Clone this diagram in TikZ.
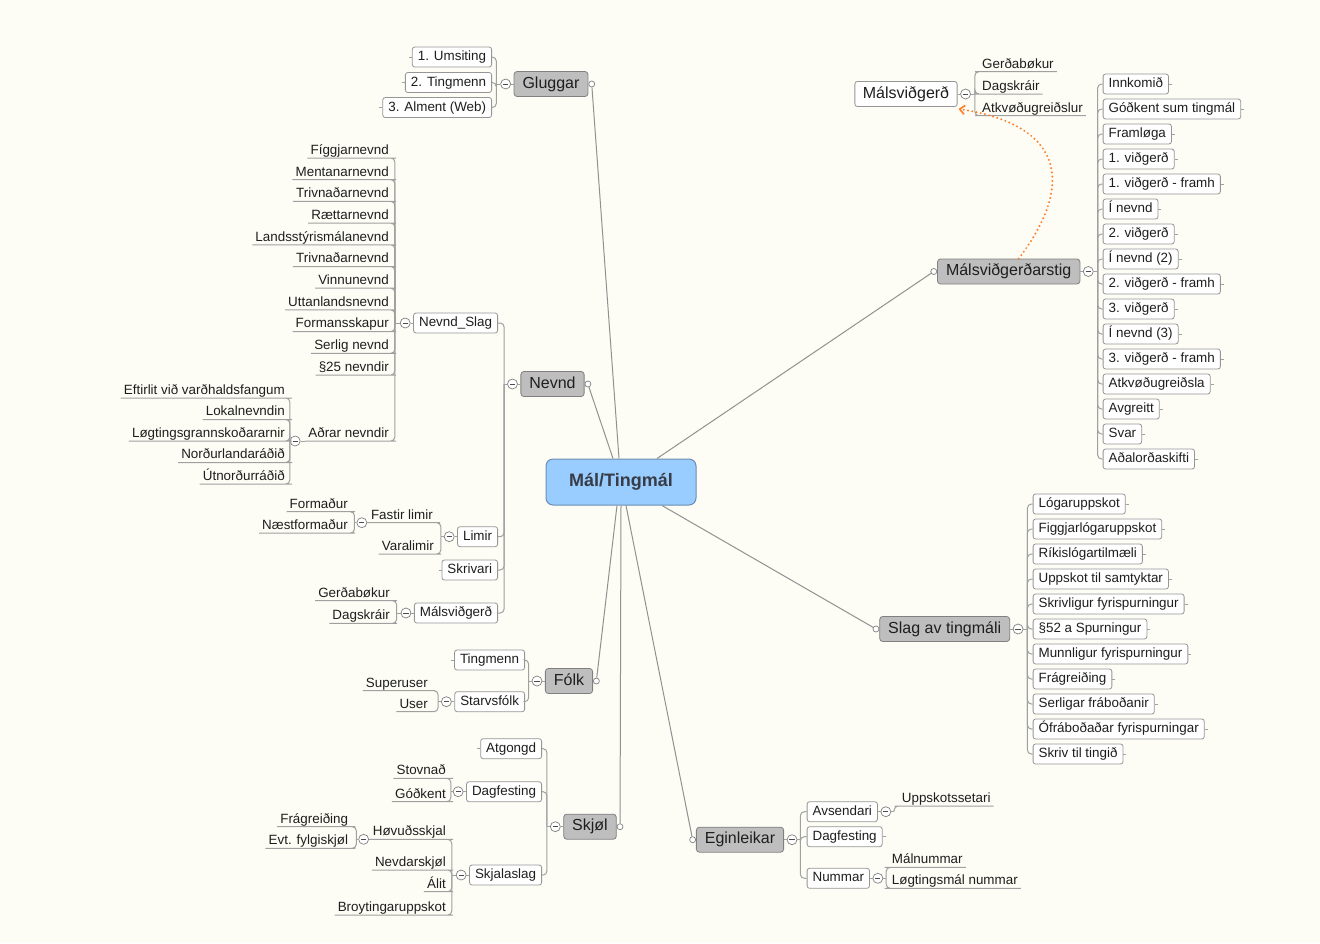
\documentclass[tikz,border=0pt]{standalone}
\usepackage{fontspec}
\setmainfont{Liberation Sans}
\usetikzlibrary{arrows.meta,calc}
\definecolor{bg}{RGB}{253,253,246}
\definecolor{ln}{RGB}{160,160,160}
\definecolor{bx}{RGB}{150,150,150}
\definecolor{mainfill}{RGB}{190,190,190}
\definecolor{mainedge}{RGB}{128,128,128}
\definecolor{rootfill}{RGB}{153,204,255}
\definecolor{rootedge}{RGB}{110,140,180}
\definecolor{orng}{RGB}{255,125,35}
\definecolor{txt}{RGB}{30,30,30}
\newcommand\cLB[3]{\draw[conn] ([xshift=-#2pt]#1.west) |- (#3.east);}
\newcommand\cLU[3]{\draw[conn] ([xshift=-#2pt]#1.west) |- (#3.south east) -- (#3.south west);}
\newcommand\cRB[3]{\draw[conn] ([xshift=#2pt]#1.east) |- (#3.west);}
\newcommand\cRU[3]{\draw[conn] ([xshift=#2pt]#1.east) |- (#3.south west) -- (#3.south east);}
\newcommand\cLS[2]{\draw[conn] (#1.west) -- ([xshift=-#2pt]#1.west);}
\newcommand\cRS[2]{\draw[conn] (#1.east) -- ([xshift=#2pt]#1.east);}
\tikzset{
 rootbox/.style={draw=rootedge, fill=rootfill, rounded corners=7pt, line width=1pt, minimum width=150pt, minimum height=46pt, font=\fontsize{18}{20}\selectfont\bfseries, text={rgb,255:red,55;green,60;blue,70}},
 mainbox/.style={draw=mainedge, fill=mainfill, rounded corners=3pt, line width=0.8pt, minimum height=25pt, inner xsep=8.5pt, inner ysep=0pt, text height=11.5pt, text depth=3.5pt, font=\fontsize{16}{18}\selectfont, text=txt},
 subbox/.style={draw=bx, fill=white, rounded corners=2.5pt, line width=0.8pt, minimum height=20pt, inner xsep=5.5pt, inner ysep=0pt, text height=9.5pt, text depth=2.5pt, font=\fontsize{13.4}{15}\selectfont, text=txt},
 ul/.style={inner xsep=3pt, inner ysep=0pt, text height=9.5pt, text depth=3.5pt, font=\fontsize{13.4}{15}\selectfont, text=txt},
 mn/.style={circle, draw=mainedge, fill=white, line width=0.7pt, minimum size=10pt, inner sep=0pt, path picture={\draw[line width=1pt, draw=txt!80] ([xshift=-2.6pt]path picture bounding box.center) -- ([xshift=2.6pt]path picture bounding box.center);}},
 dotc/.style={circle, draw=mainedge, fill=white, line width=0.7pt, minimum size=6pt, inner sep=0pt},
 conn/.style={draw=ln, line width=1pt, rounded corners=4pt},
 spoke/.style={draw={rgb,255:red,145;green,145;blue,145}, line width=1pt},
}
\begin{document}
\begin{tikzpicture}[x=1pt,y=-1pt]
\useasboundingbox (0,0) rectangle (1320,943);
\fill[bg] (0,0) rectangle (1320,943);

% root
\node[rootbox] (root) at (621,482) {Mál/Tingmál};

% ---------- Gluggar
\node[mainbox] (glug) at (551,84) {Gluggar};
\node[dotc,anchor=west] (glugd) at (glug.east) {};
\node[mn] (glugm) at ([xshift=-8pt]glug.west) {};
\draw[conn] (glug.west) -- (glugm.east); \cLS{glugm}{4}
\node[subbox,anchor=east] (g1) at (492,57) {1. Umsiting};
\node[subbox,anchor=east] (g2) at (492,82.5) {2. Tingmenn};
\node[subbox,anchor=east] (g3) at (492,107.5) {3. Alment (Web)};
\foreach \n in {g1,g2,g3} {\cLB{glugm}{4}{\n} \cLS{\n}{3}}

% ---------- Nevnd
\node[mainbox] (nev) at (552.5,384) {Nevnd};
\node[dotc,anchor=west] (nevdot) at (nev.east) {};
\node[mn] (nevm) at ([xshift=-8pt]nev.west) {};
\draw[conn] (nev.west) -- (nevm.east); \cLS{nevm}{3}
\node[subbox,anchor=east] (nslag) at (498,323) {Nevnd\_Slag};
\node[subbox,anchor=east] (limir) at (498,536.7) {Limir};
\node[subbox,anchor=east] (skriv) at (498,570) {Skrivari};
\node[subbox,anchor=east] (nmsv) at (498,613) {Málsviðgerð};
\foreach \n in {nslag,limir,skriv,nmsv} {\cLB{nevm}{3}{\n}}
\cLS{skriv}{3}

% Nevnd_Slag
\node[mn] (nslagm) at ([xshift=-8pt]nslag.west) {};
\draw[conn] (nslag.west) -- (nslagm.east); \cLS{nslagm}{5}
\foreach \t [count=\i from 0] in {Fíggjarnevnd,Mentanarnevnd,Trivnaðarnevnd,Rættarnevnd,Landsstýrismálanevnd,Trivnaðarnevnd,Vinnunevnd,Uttanlandsnevnd,Formansskapur,Serlig nevnd,§25 nevndir}
 {\node[ul,anchor=south east] (ns\i) at (392,158+21.7*\i) {\t}; \cLU{nslagm}{5}{ns\i}}
\node[ul,anchor=south east] (adr) at (392,441) {Aðrar nevndir};
\cLU{nslagm}{5}{adr}
\node[mn] (adm) at ([xshift=-10pt]adr.south west) {};
\draw[conn] (adr.south west) -- (adm.east);
\foreach \t [count=\i from 0] in {Eftirlit við varðhaldsfangum,Lokalnevndin,Løgtingsgrannskoðararnir,Norðurlandaráðið,Útnorðurráðið}
 {\node[ul,anchor=south east] (ad\i) at (288,398+21.5*\i) {\t}; \cLU{adm}{0}{ad\i}}

% Limir
\node[mn] (limm) at ([xshift=-8pt]limir.west) {};
\draw[conn] (limir.west) -- (limm.east); \cLS{limm}{3}
\node[ul,anchor=south east] (fast) at (436,522.7) {Fastir limir};
\node[ul,anchor=south east] (vara) at (437,554) {Varalimir};
\cLU{limm}{3}{fast} \cLU{limm}{3}{vara}
\node[mn] (fastm) at ([xshift=-6pt]fast.south west) {};
\draw[conn] (fast.south west) -- (fastm.east); \cLS{fastm}{2}
\node[ul,anchor=south east] (form) at (351,511.7) {Formaður};
\node[ul,anchor=south east] (nform) at (351,533) {Næstformaður};
\cLU{fastm}{2}{form} \cLU{fastm}{2}{nform}

% Malsvidgerd (Nevnd)
\node[mn] (nmsvm) at ([xshift=-8pt]nmsv.west) {};
\draw[conn] (nmsv.west) -- (nmsvm.east); \cLS{nmsvm}{4}
\node[ul,anchor=south east] (ngb) at (393,600.7) {Gerðabøkur};
\node[ul,anchor=south east] (ndk) at (393,623.3) {Dagskráir};
\cLU{nmsvm}{4}{ngb} \cLU{nmsvm}{4}{ndk}

% ---------- Folk
\node[mainbox] (folk) at (569,681) {Fólk};
\node[dotc,anchor=west] (folkd) at (folk.east) {};
\node[mn] (folkm) at ([xshift=-8pt]folk.west) {};
\draw[conn] (folk.west) -- (folkm.east); \cLS{folkm}{3}
\node[subbox,anchor=east] (ting) at (525,660) {Tingmenn};
\node[subbox,anchor=east] (starv) at (525,701.7) {Starvsfólk};
\cLB{folkm}{3}{ting} \cLB{folkm}{3}{starv} \cLS{ting}{3}
\node[mn] (starvm) at ([xshift=-8pt]starv.west) {};
\draw[conn] (starv.west) -- (starvm.east); \cLS{starvm}{3}
\node[ul,anchor=south east] (super) at (431,690.7) {Superuser};
\node[ul,anchor=south east] (user) at (431,711.7) {User};
\cLU{starvm}{3}{super} \cLU{starvm}{3}{user}

% ---------- Skjol
\node[mainbox] (skjol) at (590,826.7) {Skjøl};
\node[dotc,anchor=west] (skjold) at (skjol.east) {};
\node[mn] (skjm) at ([xshift=-8pt]skjol.west) {};
\draw[conn] (skjol.west) -- (skjm.east); \cLS{skjm}{3}
\node[subbox,anchor=east] (atg) at (542,748.7) {Atgongd};
\node[subbox,anchor=east] (dagf) at (542,791.7) {Dagfesting};
\node[subbox,anchor=east] (skjs) at (542,875) {Skjalaslag};
\foreach \n in {atg,dagf,skjs} {\cLB{skjm}{3}{\n}}
\cLS{atg}{3}
\node[mn] (dagfm) at ([xshift=-8pt]dagf.west) {};
\draw[conn] (dagf.west) -- (dagfm.east); \cLS{dagfm}{2}
\node[ul,anchor=south east] (stov) at (449,778.3) {Stovnað};
\node[ul,anchor=south east] (godk) at (449,801.7) {Góðkent};
\cLU{dagfm}{2}{stov} \cLU{dagfm}{2}{godk}
\node[mn] (skjsm) at ([xshift=-8pt]skjs.west) {};
\draw[conn] (skjs.west) -- (skjsm.east); \cLS{skjsm}{4}
\node[ul,anchor=south east] (hovud) at (449,839.3) {Høvuðsskjal};
\node[ul,anchor=south east] (nevdsk) at (449,870) {Nevdarskjøl};
\node[ul,anchor=south east] (alit) at (449,891.7) {Álit};
\node[ul,anchor=south east] (broyt) at (449,915) {Broytingaruppskot};
\foreach \n in {hovud,nevdsk,alit,broyt} {\cLU{skjsm}{4}{\n}}
\node[mn] (hovm) at ([xshift=-6pt]hovud.south west) {};
\draw[conn] (hovud.south west) -- (hovm.east); \cLS{hovm}{2}
\node[ul,anchor=south east] (frag) at (351.3,826.7) {Frágreiðing};
\node[ul,anchor=south east] (evt) at (351.3,848.3) {Evt. fylgiskjøl};
\cLU{hovm}{2}{frag} \cLU{hovm}{2}{evt}

% ---------- Eginleikar
\node[mainbox] (egin) at (740,839.7) {Eginleikar};
\node[dotc,anchor=east] (egind) at (egin.west) {};
\node[mn] (eginm) at ([xshift=8pt]egin.east) {};
\draw[conn] (egin.east) -- (eginm.west); \cRS{eginm}{3}
\node[subbox,anchor=west] (avs) at (806.7,811.7) {Avsendari};
\node[subbox,anchor=west] (edag) at (806.7,836.7) {Dagfesting};
\node[subbox,anchor=west] (numm) at (806.7,878.3) {Nummar};
\foreach \n in {avs,edag,numm} {\cRB{eginm}{3}{\n}}
\cRS{edag}{3}
\node[mn] (avsm) at ([xshift=8pt]avs.east) {};
\draw[conn] (avs.east) -- (avsm.west); \cRS{avsm}{3}
\node[ul,anchor=south west] (upps) at (898.7,806) {Uppskotssetari};
\cRU{avsm}{3}{upps}
\node[mn] (nummm) at ([xshift=8pt]numm.east) {};
\draw[conn] (numm.east) -- (nummm.west); \cRS{nummm}{3}
\node[ul,anchor=south west] (maln) at (888.7,867.3) {Málnummar};
\node[ul,anchor=south west] (logn) at (888.7,888.3) {Løgtingsmál nummar};
\cRU{nummm}{3}{maln} \cRU{nummm}{3}{logn}

% ---------- Malsvidgerdarstig
\node[mainbox] (mstig) at (1008.7,271.5) {Málsviðgerðarstig};
\node[dotc,anchor=east] (mstigd) at (mstig.west) {};
\node[mn] (mstigm) at ([xshift=8pt]mstig.east) {};
\draw[conn] (mstig.east) -- (mstigm.west); \cRS{mstigm}{4}
\foreach \t [count=\i from 0] in {Innkomið,Góðkent sum tingmál,Framløga,1. viðgerð,1. viðgerð - framh,Í nevnd,2. viðgerð,Í nevnd (2),2. viðgerð - framh,3. viðgerð,Í nevnd (3),3. viðgerð - framh,Atkvøðugreiðsla,Avgreitt,Svar,Aðalorðaskifti}
 {\node[subbox,anchor=west] (ms\i) at (1102.7,84+25*\i) {\t}; \cRB{mstigm}{4}{ms\i} \cRS{ms\i}{3}}

% ---------- Malsvidgerd (floating)
\node[subbox, font=\fontsize{16}{18}\selectfont, minimum height=25pt, inner xsep=8pt, text height=11.5pt, text depth=3.5pt] (msvg) at (906,94) {Málsviðgerð};
\node[mn] (msvgm) at ([xshift=8pt]msvg.east) {};
\draw[conn] (msvg.east) -- (msvgm.west); \cRS{msvgm}{4}
\node[ul,anchor=south west] (ugb) at (979,71.7) {Gerðabøkur};
\node[ul,anchor=south west] (udk) at (979,94) {Dagskráir};
\node[ul,anchor=south west] (uat) at (979,115.7) {Atkvøðugreiðslur};
\cRU{msvgm}{4}{ugb} \cRU{msvgm}{4}{udk} \cRU{msvgm}{4}{uat}

% ---------- Slag av tingmali
\node[mainbox] (slag) at (944.7,629) {Slag av tingmáli};
\node[dotc,anchor=east] (slagd) at (slag.west) {};
\node[mn] (slagm) at ([xshift=8pt]slag.east) {};
\draw[conn] (slag.east) -- (slagm.west); \cRS{slagm}{4}
\foreach \t [count=\i from 0] in {Lógaruppskot,Figgjarlógaruppskot,Ríkislógartilmæli,Uppskot til samtyktar,Skrivligur fyrispurningur,§52 a Spurningur,Munnligur fyrispurningur,Frágreiðing,Serligar fráboðanir,Ófráboðaðar fyrispurningar,Skriv til tingið}
 {\node[subbox,anchor=west] (sl\i) at (1032.7,504+25*\i) {\t}; \cRB{slagm}{4}{sl\i} \cRS{sl\i}{3}}

% ---------- spokes from root
\draw[spoke] ([xshift=-2pt]root.north) -- (glugd);
\draw[spoke] ([xshift=-8pt]root.north) -- (nevdot);
\draw[spoke] ([xshift=36pt]root.north) -- (mstigd);
\draw[spoke] ([xshift=41pt]root.south) -- (slagd);
\draw[spoke] ([xshift=-4pt]root.south) -- (folkd);
\draw[spoke] (root.south) -- (skjold);
\draw[spoke] ([xshift=5pt]root.south) -- (egind);

% ---------- orange relation
\draw[orng, line width=2.2pt, dash pattern=on 0pt off 4.3pt, line cap=round, -{Straight Barb[length=5pt,width=9pt,line width=1.6pt]}]
 ([xshift=10pt]mstig.north) .. controls +(50,-66) and +(115,18) .. ([xshift=1pt,yshift=-2pt]msvg.south east);
\end{tikzpicture}
\end{document}
